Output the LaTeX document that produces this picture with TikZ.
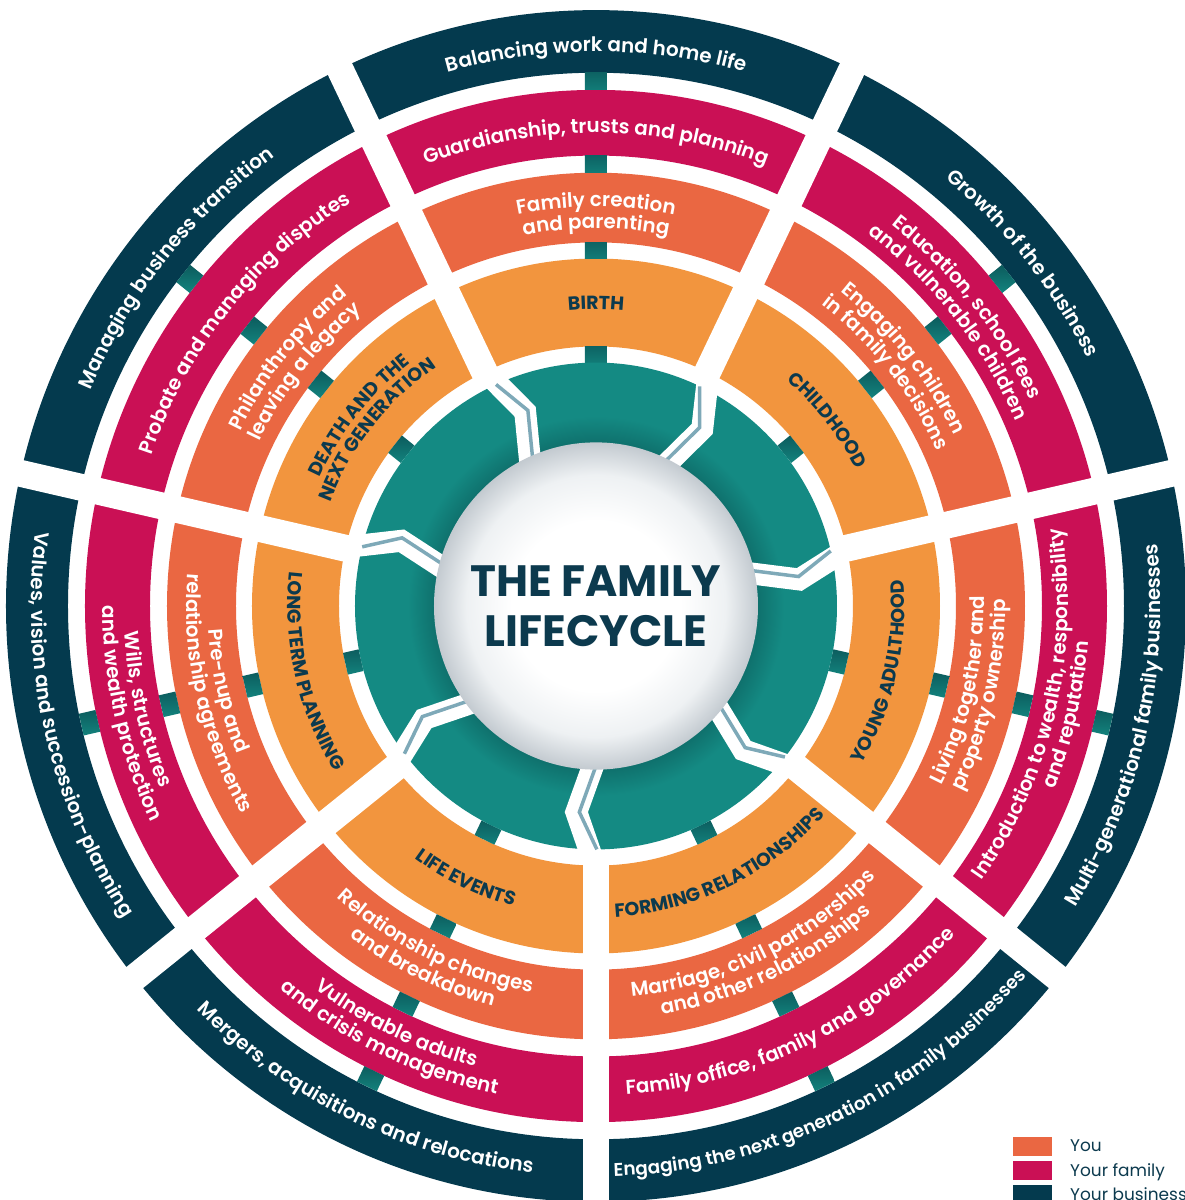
\documentclass[tikz,border=0pt]{standalone}
\usepackage{fontspec}
\setmainfont{Poppins}
\IfFontExistsTF{Poppins SemiBold}{\newfontfamily\semib{Poppins SemiBold}}{\newcommand\semib{\bfseries}}
\usetikzlibrary{decorations.text}
\definecolor{navy}{HTML}{043A4E}
\definecolor{navyt}{HTML}{0C3A4E}
\definecolor{magc}{HTML}{CA1055}
\definecolor{dor}{HTML}{EA6742}
\definecolor{lor}{HTML}{F2953E}
\definecolor{tealc}{HTML}{148A83}
\definecolor{teald}{HTML}{0F716D}
\definecolor{conn}{HTML}{0B5558}
\definecolor{cutb}{HTML}{7EA9B8}
\definecolor{sphA}{HTML}{EEF1F3}
\definecolor{sphB}{HTML}{C3CAD0}
\pgfdeclareradialshading{sphsh}{\pgfpoint{0bp}{0bp}}{color(0bp)=(white); color(13bp)=(white); color(20bp)=(sphA); color(25bp)=(sphB); color(50bp)=(sphB)}
\pgfdeclareradialshading{hubsh}{\pgfpoint{0bp}{0bp}}{color(0bp)=(teald); color(16.8bp)=(teald); color(19.5bp)=(tealc); color(25bp)=(tealc); color(50bp)=(tealc)}
\newcommand\lblW{\fontsize{20}{20}\selectfont\semib\color{white}}
\newcommand\lblS{\fontsize{18.5}{18.5}\selectfont\semib\color{white}}
\newcommand\lblN{\fontsize{19}{19}\selectfont\bfseries\color{navyt}}
% top style: text reads clockwise, tops outward
\newcommand\arcT[4]{\path[decorate,decoration={text along path,text align=center,text={|#3|#4}}] ({#1+25}:#2) arc[start angle={#1+25},end angle={#1-25},radius=#2];}
% bottom style: text reads counter-clockwise, tops inward
\newcommand\arcB[4]{\path[decorate,decoration={text along path,text align=center,text={|#3|#4}}] ({#1-25}:#2) arc[start angle={#1-25},end angle={#1+25},radius=#2];}
\tikzset{
  gapline/.style={white,line width=27},
  cutwhite/.style={white,line width=22,line join=miter},
  cutline/.style={cutb,line width=3.5,line join=miter},
  titlefont/.style={font=\fontsize{44}{44}\selectfont\bfseries,text=navyt,inner sep=0},
  keybox/.style={minimum width=39bp,minimum height=19bp,inner sep=0,anchor=north west},
  keytext/.style={anchor=base west,font=\fontsize{17}{17}\selectfont,text=navyt,inner sep=0}
}
\begin{document}
\begin{tikzpicture}[x=1bp,y=1bp]
\useasboundingbox (-596,-594) rectangle (589,606);
\fill[white] (-596,-594) rectangle (589,606);
\clip (-596,-594) rectangle (589,606);
\begin{scope}[yscale=1.01]
% rings
\fill[navy,even odd rule] (0,0) circle[radius=590] (0,0) circle[radius=528];
\fill[magc,even odd rule] (0,0) circle[radius=511] (0,0) circle[radius=446];
\fill[dor,even odd rule] (0,0) circle[radius=429] (0,0) circle[radius=360];
\fill[lor,even odd rule] (0,0) circle[radius=344] (0,0) circle[radius=257];
% radial gaps between the seven stages
\foreach \b in {64.2857,12.8571,-38.5714,-90,-141.4286,-192.8571,-244.2857}
  \draw[gapline] (\b:246) -- (\b:640);
% connectors at the centre of each stage
\foreach \c in {90,38.5714,-12.8571,-64.2857,-115.7143,-167.1429,-218.5714}{
  \foreach \ra/\rb in {241/257,344/360,429/446,511/528}{
    \begin{scope}
      \clip[rotate=\c] (\ra,-11) rectangle (\rb,11);
      \shade[top color=conn,bottom color=tealc] ({\c}:{(\ra+\rb)/2}) ++(-18,-18) rectangle ++(36,36);
    \end{scope}
  }
}
% hub
\shade[shading=hubsh] (0,0) circle[radius=241];
\foreach \b/\n in {64.2857/154.2857,12.8571/102.8571,-38.5714/51.4286,-90/0,-141.4286/128.5714,-192.8571/77.1429,-244.2857/25.7143}{
  \draw[cutwhite] ({\b-0.5}:254) -- ({\b-5.5}:205) -- (\b:150);
  \draw[cutline,shift={(\n:3)}] ({\b-0.5}:241) -- ({\b-5.5}:205) -- (\b:150);
}
% sphere
\shade[shading=sphsh] (0,0) circle[radius=162];

% ---- BIRTH (90)
\arcT{90}{293.5}{\lblN}{BIRTH}
\arcT{90}{395.5}{\lblW}{Family creation}
\arcT{90}{374}{\lblW}{and parenting}
\arcT{90}{468.5}{\lblW}{Guardianship, trusts and planning}
\arcT{90}{549}{\lblW}{Balancing work and home life}
% ---- CHILDHOOD (38.57)
\arcT{38.5714}{293.5}{\lblN}{CHILDHOOD}
\arcT{38.5714}{395.5}{\lblW}{Engaging children}
\arcT{38.5714}{374}{\lblW}{in family decisions}
\arcT{38.5714}{479.5}{\lblW}{Education, school fees}
\arcT{38.5714}{458}{\lblW}{and vulnerable children}
\arcT{38.5714}{549}{\lblW}{Growth of the business}
% ---- DEATH AND THE NEXT GENERATION (141.43)
\arcT{141.4286}{304}{\lblN}{DEATH AND THE}
\arcT{141.4286}{285}{\lblN}{NEXT GENERATION}
\arcT{141.4286}{395.5}{\lblW}{Philanthropy and}
\arcT{141.4286}{374}{\lblW}{leaving a legacy}
\arcT{141.4286}{468.5}{\lblW}{Probate and managing disputes}
\arcT{141.4286}{549}{\lblW}{Managing business transition}
% ---- YOUNG ADULTHOOD (-12.86)
\arcB{-12.8571}{308.5}{\lblN}{YOUNG ADULTHOOD}
\arcB{-12.8571}{388}{\lblW}{Living together and}
\arcB{-12.8571}{409.5}{\lblW}{property ownership}
\arcB{-12.8571}{472}{\lblW}{Introduction to wealth, responsibility}
\arcB{-12.8571}{493.5}{\lblW}{and reputation}
\arcB{-12.8571}{565}{\lblW}{Multi-generational family businesses}
% ---- FORMING RELATIONSHIPS (-64.29)
\arcB{-64.2857}{308.5}{\lblN}{FORMING RELATIONSHIPS}
\arcB{-64.2857}{388}{\lblW}{Marriage, civil partnerships}
\arcB{-64.2857}{409.5}{\lblW}{and other relationships}
\arcB{-64.2857}{484.5}{\lblW}{Family office, family and governance}
\arcB{-64.2857}{565}{\lblS}{Engaging the next generation in family businesses}
% ---- LIFE EVENTS (-115.71)
\arcB{-115.7143}{308.5}{\lblN}{LIFE EVENTS}
\arcB{-115.7143}{388}{\lblW}{Relationship changes}
\arcB{-115.7143}{409.5}{\lblW}{and breakdown}
\arcB{-115.7143}{472}{\lblW}{Vulnerable adults}
\arcB{-115.7143}{493.5}{\lblW}{and crisis management}
\arcB{-115.7143}{565}{\lblW}{Mergers, acquisitions and relocations}
% ---- LONG TERM PLANNING (-167.14)
\arcB{-167.1429}{308.5}{\lblN}{LONG TERM PLANNING}
\arcB{-167.1429}{388}{\lblW}{Pre-nup and}
\arcB{-167.1429}{409.5}{\lblW}{relationship agreements}
\arcB{-167.1429}{472}{\lblW}{Wills, structures}
\arcB{-167.1429}{493.5}{\lblW}{and wealth protection}
\arcB{-167.1429}{565}{\lblW}{Values, vision and succession-planning}
\end{scope}
% centre title
\node[titlefont] (title1) at (0,24.5) {THE FAMILY};
\node[titlefont] (title2) at (0,-25.5) {LIFECYCLE};
% legend
\node[keybox,fill=dor] (key1) at (417,-531) {};
\node[keybox,fill=magc] (key2) at (417,-555) {};
\node[keybox,fill=navy] (key3) at (417,-579) {};
\node[keytext] (lab1) at (474,-545.7) {You};
\node[keytext] (lab2) at (474,-570) {Your family};
\node[keytext] (lab3) at (474,-594.5) {Your business};
\end{tikzpicture}
\end{document}
